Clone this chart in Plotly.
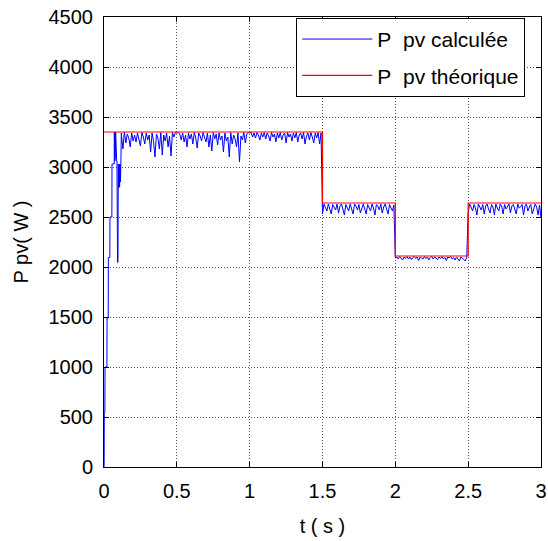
import numpy as np
import plotly.graph_objects as go

# ---- Data ----
# Start-up transient of the computed PV power
t_transient = [0, 0.001, 0.002, 0.006, 0.007, 0.020, 0.021, 0.029, 0.030, 0.040,
               0.041, 0.054, 0.055, 0.070, 0.071, 0.074, 0.076, 0.078, 0.080, 0.082,
               0.084, 0.087, 0.089, 0.093, 0.096, 0.098, 0.101, 0.104, 0.107, 0.110,
               0.113, 0.116, 0.119, 0.121]
p_transient = [0, 40, 545, 545, 1000, 1000, 1490, 1490, 2095, 2095,
               2500, 2500, 3030, 3030, 3350, 3060, 3350, 3100, 3350, 3060,
               3350, 3060, 3060, 2045, 2050, 3030, 2790, 3030, 2800, 3030,
               2850, 3050, 3340, 3300]

# Steady segments sampled every 0.01 s
dt = 0.01
t_seg1_start = 0.13
p_seg1 = [3180, 3350, 3240, 3330, 3290, 3200, 3340, 3260,
          3320, 3250, 3340, 3280, 3210, 3345, 3300, 3230, 3340, 3270,
          3320, 3150, 3340, 3260, 3100, 3330, 3290, 3180, 3345, 3120,
          3320, 3260, 3340, 3200, 3310, 3110, 3345, 3300, 3345, 3340,
          3345, 3330, 3270, 3340, 3250, 3320, 3200, 3340, 3280, 3330,
          3230, 3345, 3290, 3190, 3340, 3310, 3260, 3345, 3300, 3250,
          3340, 3200, 3320, 3160, 3345, 3280, 3330, 3220, 3340, 3270,
          3310, 3150, 3340, 3260, 3300, 3100, 3345, 3230, 3320, 3280,
          3200, 3340, 3050, 3310, 3270, 3345, 3240, 3330, 3345, 3340,
          3345, 3300, 3340, 3290, 3345, 3320, 3270, 3340, 3300, 3345,
          3280, 3340, 3310, 3260, 3345, 3300, 3330, 3250, 3340, 3290,
          3345, 3270, 3320, 3340, 3240, 3345, 3300, 3330, 3260, 3340,
          3290, 3345, 3250, 3320, 3340, 3280, 3345, 3230, 3310, 3340,
          3270, 3345, 3300, 3240, 3340, 3290, 3345, 3230, 3340]
t_seg2_start = 1.50
p_seg2 = [2530, 2630, 2600, 2560, 2630, 2590, 2530, 2625, 2600, 2570,
          2630, 2540, 2610, 2630, 2580, 2520, 2625, 2600, 2560, 2630,
          2590, 2530, 2630, 2610, 2570, 2625, 2540, 2600, 2630, 2580,
          2530, 2625, 2600, 2560, 2630, 2590, 2520, 2625, 2610, 2570,
          2630, 2540, 2600, 2630, 2580, 2530, 2625, 2600, 2560, 2620]
t_seg3_start = 2.00
p_seg3 = [2090, 2100, 2080, 2105, 2090, 2070, 2100, 2085, 2105, 2080,
          2100, 2075, 2095, 2105, 2085, 2100, 2065, 2100, 2090, 2080,
          2105, 2085, 2100, 2070, 2095, 2105, 2080, 2100, 2090, 2075,
          2100, 2085, 2105, 2080, 2095, 2065, 2100, 2090, 2105, 2080,
          2095, 2070, 2100, 2085, 2060, 2100, 2090, 2075, 2060, 2095]
t_seg4_start = 2.50
p_seg4 = [2540, 2630, 2600, 2560, 2625, 2590, 2520, 2630, 2600, 2570,
          2625, 2530, 2610, 2630, 2580, 2540, 2625, 2600, 2520, 2630,
          2590, 2560, 2630, 2610, 2530, 2625, 2580, 2600, 2630, 2540,
          2610, 2625, 2570, 2530, 2630, 2590, 2600, 2625, 2520, 2610,
          2630, 2560, 2600, 2625, 2530, 2590, 2630, 2600, 2520, 2620,
          2490]

# Theoretical PV power (piecewise constant)
t_theo = [0, 1.5, 2.0, 2.5, 3.0]
p_theo = [3350, 2640, 2110, 2640, 2640]

x_ticks = [0, 0.5, 1, 1.5, 2, 2.5, 3]
x_ticklabels = ["0", "0.5", "1", "1.5", "2", "2.5", "3"]
y_ticks = [0, 500, 1000, 1500, 2000, 2500, 3000, 3500, 4000, 4500]

# ---- Assemble computed series ----
def seg_times(start, values):
    return [round(start + i * dt, 4) for i in range(len(values))]

t_calc = (t_transient + seg_times(t_seg1_start, p_seg1) + seg_times(t_seg2_start, p_seg2)
          + seg_times(t_seg3_start, p_seg3) + seg_times(t_seg4_start, p_seg4))
p_calc = p_transient + p_seg1 + p_seg2 + p_seg3 + p_seg4

FONT = "Liberation Sans, Arial, sans-serif"

fig = go.Figure()
fig.add_trace(go.Scatter(x=t_calc, y=p_calc, mode="lines",
                         line=dict(color="#0000FF", width=1),
                         name="P\u00a0 pv calculée", legendgroup="a"))
fig.add_trace(go.Scatter(x=t_theo, y=p_theo, mode="lines", line_shape="hv",
                         line=dict(color="#FF0000", width=1.2),
                         name="P\u00a0 pv théorique", legendgroup="b"))

axis_common = dict(showline=True, linecolor="black", linewidth=1, mirror="ticks",
                   ticks="inside", ticklen=5, tickcolor="black", automargin=False,
                   showgrid=True, gridcolor="#555555", gridwidth=1, griddash="1px,2px",
                   zeroline=False, tickfont=dict(family=FONT, size=20, color="black"))

fig.update_xaxes(range=[0, 3], tickvals=x_ticks, ticktext=x_ticklabels,
                 ticklabelstandoff=6,
                 title=dict(text="t ( s )", font=dict(family=FONT, size=20, color="black"),
                            standoff=17),
                 **axis_common)
fig.update_yaxes(range=[0, 4500], tickvals=y_ticks,
                 ticklabelstandoff=6,
                 title=dict(text="P pv( W )", font=dict(family=FONT, size=20, color="black"),
                            standoff=14),
                 **axis_common)

fig.update_layout(
    width=548, height=541,
    margin=dict(l=104, r=7, t=17, b=74),
    paper_bgcolor="white", plot_bgcolor="white",
    font=dict(family=FONT, size=20, color="black"),
    showlegend=True,
    legend=dict(x=0.440, y=0.998, xanchor="left", yanchor="top",
                bgcolor="white", bordercolor="black", borderwidth=1,
                font=dict(family=FONT, size=21, color="black"),
                itemwidth=70, entrywidth=172, entrywidthmode="pixels",
                tracegroupgap=6, traceorder="grouped"),
)

fig.write_html("out.html")
